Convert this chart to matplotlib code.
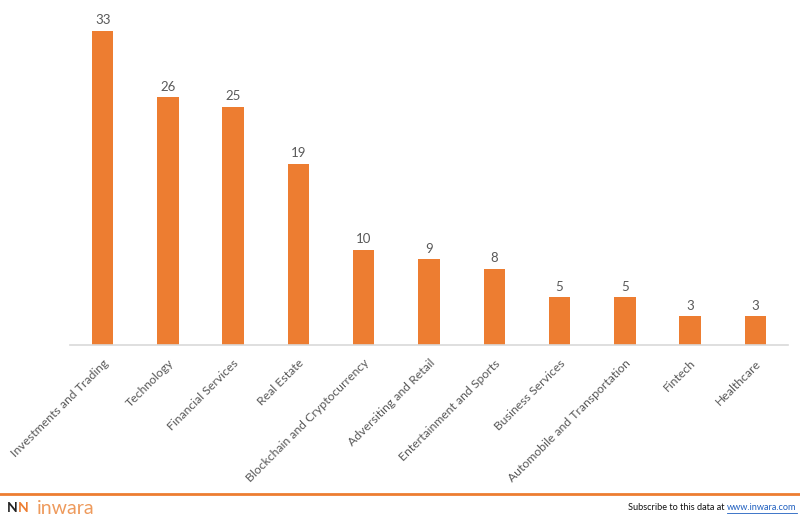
import matplotlib
matplotlib.use("Agg")
import matplotlib.pyplot as plt
from matplotlib.lines import Line2D

categories = ["Investments and Trading", "Technology", "Financial Services", "Real Estate",
              "Blockchain and Cryptocurrency", "Adversiting and Retail", "Entertainment and Sports",
              "Business Services", "Automobile and Transportation", "Fintech", "Healthcare"]
counts = [33, 26, 25, 19, 10, 9, 8, 5, 5, 3, 3]

plt.rcParams['font.family'] = ['Lato', 'DejaVu Sans']
bar_color = "#ED7D31"
text_gray = "#595959"

fig = plt.figure(figsize=(8, 5.24), dpi=100)
ax = fig.add_axes([0.0875, 0.3416, 0.8975, 0.6584])

x = list(range(len(categories)))
ax.bar(x, counts, width=0.33, color=bar_color)
for xi, v in zip(x, counts):
    ax.text(xi, v + 0.5, str(v), ha="center", va="bottom", fontsize=9.5, color=text_gray)

ax.set_xlim(-0.5, len(categories) - 0.5)
ax.set_ylim(0, 36.24)
ax.set_yticks([])
for s in ["top", "right", "left"]:
    ax.spines[s].set_visible(False)
ax.spines["bottom"].set_color("#D9D9D9")
ax.spines["bottom"].set_linewidth(1.2)
ax.set_xticks(x)
ax.set_xticklabels(categories, rotation=45, ha="right", rotation_mode="anchor",
                   fontsize=8.8, color=text_gray)
ax.tick_params(axis="x", length=0, pad=9)

# footer
fig.add_artist(Line2D([0, 1], [1 - 494 / 524, 1 - 494 / 524], color="#ED7D31", linewidth=2,
                      transform=fig.transFigure))
fy = 1 - 508 / 524
fig.text(0.009, fy, "N", fontsize=10, fontweight="bold", color="#222222", va="center")
fig.text(0.022, fy, "N", fontsize=10, fontweight="bold", color="#ED7D31", va="center")
fig.text(0.046, fy, "inwara", fontsize=14, color="#EE9A5C", va="center")

t2 = fig.text(0.996, fy, "www.inwara.com", fontsize=6.6, color="#1F5FBF", va="center", ha="right")
fig.canvas.draw()
bb = t2.get_window_extent()
fig.text(bb.x0 / 800 - 0.004, fy, "Subscribe to this data at", fontsize=6.6, color="#111111",
         va="center", ha="right")
fig.add_artist(Line2D([bb.x0 / 800, bb.x1 / 800], [bb.y0 / 524, bb.y0 / 524],
                      color="#1F5FBF", linewidth=0.6, transform=fig.transFigure))

fig.savefig("out.png", dpi=100)
